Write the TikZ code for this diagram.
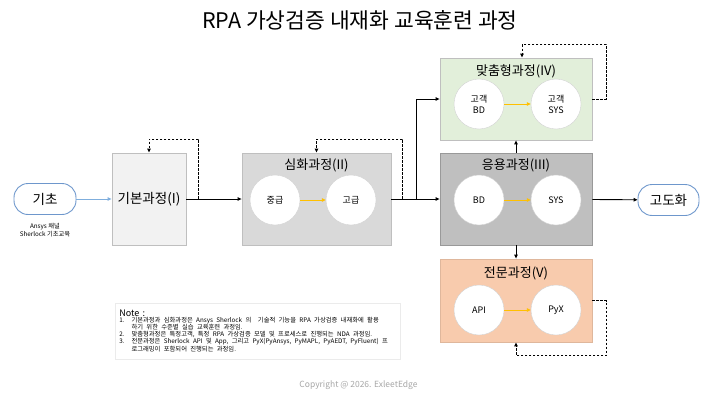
\documentclass[tikz,border=0pt]{standalone}
\usepackage{fontspec}
\setmainfont{Noto Sans CJK KR}
\usetikzlibrary{positioning,arrows.meta,calc}
\definecolor{kblue}{HTML}{6E97CC}
\definecolor{kbluearrow}{HTML}{7FAEDD}
\definecolor{kline}{HTML}{BFBFBF}
\definecolor{kbasefill}{HTML}{F2F2F2}
\definecolor{kdeepfill}{HTML}{D9D9D9}
\definecolor{kapplyfill}{HTML}{BFBFBF}
\definecolor{kcustomfill}{HTML}{E2EFDA}
\definecolor{kexpertfill}{HTML}{F8CBAD}
\definecolor{korange}{HTML}{FFC000}
\definecolor{kgraytext}{HTML}{A6A6A6}

\begin{document}
\begin{tikzpicture}[x=1pt,y=-1pt,
    stagebox/.style={draw=kline, line width=0.8pt, rectangle, inner sep=0pt},
    boxtitle/.style={font=\fontsize{13}{15}\selectfont, inner sep=0pt},
    levelcircle/.style={circle, draw=kline!70, fill=white, minimum size=50pt, inner sep=0pt, align=center, font=\fontsize{9}{11}\selectfont},
    endcap/.style={draw=kblue, line width=0.9pt, rounded corners=14pt, minimum width=62pt, minimum height=31pt, font=\fontsize{13.5}{15}\selectfont},
    flow/.style={-{Triangle[length=4pt,width=3.5pt]}, line width=0.9pt},
    inner/.style={-{Triangle[length=4pt,width=3.5pt]}, line width=0.9pt, korange},
    loopline/.style={-{Triangle[length=4pt,width=3.5pt]}, line width=1pt, dash pattern=on 2.6pt off 1.4pt}]
    \useasboundingbox (0,0) rectangle (717,404);
    \node[font=\fontsize{21.5}{25}\selectfont] (title) at (360,20) {RPA 가상검증 내재화 교육훈련 과정};
    % start and end
    \node[endcap] (intro) at (45,199) {기초};
    \node[font=\fontsize{6.3}{8}\selectfont, align=center, below=5pt of intro] (introsub) {Ansys 채널\\Sherlock 기초교육};
    \node[endcap, minimum width=61pt] (adv) at (668.5,200) {고도화};
    % stages
    \node[stagebox, fill=kbasefill, minimum width=74pt, minimum height=92pt, font=\fontsize{13.5}{15}\selectfont] (base) at (149,199) {기본과정(I)};
    \node[stagebox, fill=kdeepfill, minimum width=149pt, minimum height=92pt] (deep) at (316.5,199) {};
    \node[boxtitle, below=6pt of deep.north] (deeptitle) {심화과정(II)};
    \node[stagebox, fill=kapplyfill, draw=kline!80!black, minimum width=152pt, minimum height=92pt] (apply) at (516,199) {};
    \node[boxtitle, below=6pt of apply.north] (applytitle) {응용과정(III)};
    \node[stagebox, fill=kcustomfill, minimum width=152pt, minimum height=82pt] (custom) at (516,99) {};
    \node[boxtitle, below=7pt of custom.north] (customtitle) {맞춤형과정(IV)};
    \node[stagebox, fill=kexpertfill, draw=kexpertfill!90!black, minimum width=152pt, minimum height=83pt] (expert) at (516,300.5) {};
    \node[boxtitle, below=8pt of expert.north] (experttitle) {전문과정(V)};
    % levels inside
    \node[levelcircle] (mid) at (275,200) {중급};
    \node[levelcircle] (high) at (351,200) {고급};
    \node[levelcircle] (cbd) at (479,104) {고객\\BD};
    \node[levelcircle] (csys) at (556,104) {고객\\SYS};
    \node[levelcircle] (abd) at (479,200) {BD};
    \node[levelcircle] (asys) at (556,200) {SYS};
    \node[levelcircle] (api) at (479,310) {API};
    \node[levelcircle] (pyx) at (556,310) {PyX};
    \draw[inner] (mid) -- (high);
    \draw[inner] (cbd) -- (csys);
    \draw[inner] (abd) -- (asys);
    \draw[inner] (api) -- (pyx);
    % main flow
    \draw[flow, kbluearrow] (intro) -- (base);
    \draw[flow] (base) -- (deep);
    \draw[flow] (deep) -- (apply);
    \coordinate (split) at (416,199);
    \draw[flow] (split) |- (custom.west);
    \draw[flow] (apply) -- (custom);
    \draw[flow] (apply) -- (expert);
    \draw[flow] (apply) -- (adv);
    % repeat loops
    \draw[loopline] ($(base.east)+(12,0)$) -- ++(0,-60) -| (base.north);
    \draw[loopline] ($(deep.east)+(11,0)$) -- ++(0,-60) -| (deep.north);
    \draw[loopline] (custom.east) -- ++(14,0) -- ++(0,-54) -| ($(custom.north)+(6,0)$);
    \draw[loopline] (expert.east) -- ++(14,0) -- ++(0,55) -| (expert.south);
    % note
    \node[draw=black!8, line width=0.6pt, anchor=north west, minimum width=285pt, minimum height=56pt, inner xsep=4pt, inner ysep=2pt, text width=277pt, align=left] (note) at (115,303)
      {\fontsize{6.3}{6.4}\selectfont
       \begin{tabular}[t]{@{}l@{\hspace{7pt}}l@{}}
       \multicolumn{2}{@{}l}{\fontsize{9}{10}\selectfont Note :}\\[-1pt]
       1. & 기본과정과 심화과정은 Ansys Sherlock 의 \ 기술적 기능을 RPA 가상검증 내재화에 활용\\
          & 하기 위한 수준별 실습 교육훈련 과정임.\\
       2. & 맞춤형과정은 특정고객, 특정 RPA 가상검증 모델 및 프로세스로 진행되는 NDA 과정임.\\
       3. & 전문과정은 Sherlock API 및 App, 그리고 PyX(PyAnsys, PyMAPL, PyAEDT, PyFluent) 프\\
          & 로그래밍이 포함되어 진행되는 과정임.
       \end{tabular}};
    \node[font=\fontsize{8.5}{10}\selectfont, text=kgraytext] (copy) at (358.5,385) {Copyright @ 2026. ExleetEdge};
\end{tikzpicture}
\end{document}
